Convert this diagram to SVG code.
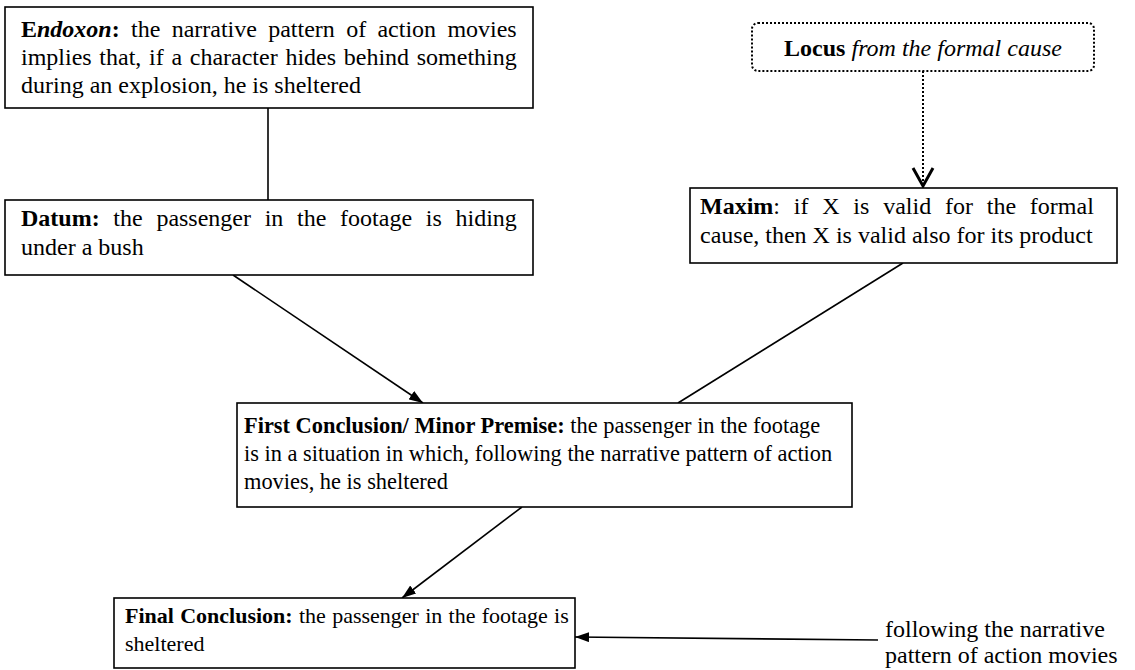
<svg xmlns="http://www.w3.org/2000/svg" width="1135" height="670" viewBox="0 0 1135 670">
<style>
  .box { fill: #fff; stroke: #000; stroke-width: 1.6; }
  .dot { fill: #fff; stroke: #000; stroke-width: 2; stroke-dasharray: 2 2; }
  .t { font-family: "Liberation Serif", "Times New Roman", serif; font-size: 24px; fill: #000; }
  .s { font-size: 22.4px; }
  .b { font-weight: bold; }
  .bi { font-weight: bold; font-style: italic; }
  .i { font-style: italic; }
  .ln { stroke: #000; stroke-width: 1.6; fill: none; }
</style>
<defs>
  <marker id="ah" viewBox="0 0 14 10" refX="14" refY="5" markerWidth="14" markerHeight="10" markerUnits="userSpaceOnUse" orient="auto">
    <path d="M0,0 L14,5 L0,10 Z" fill="#000"/>
  </marker>
</defs>
<g id="connectors">
  <line class="ln" x1="268" y1="108" x2="268" y2="200"/>
  <line class="ln" x1="233" y1="275" x2="423" y2="403" marker-end="url(#ah)"/>
  <line class="ln" x1="903" y1="263" x2="678" y2="403"/>
  <line x1="923" y1="71" x2="923" y2="185" stroke="#000" stroke-width="2" stroke-dasharray="2 2"/>
  <polyline points="913,168 923,186 933,168" fill="none" stroke="#000" stroke-width="3"/>
  <line class="ln" x1="522" y1="507" x2="402" y2="598" marker-end="url(#ah)"/>
  <line class="ln" x1="878" y1="640" x2="575" y2="637" marker-end="url(#ah)"/>
</g>
<g id="endoxon">
  <rect class="box" x="5" y="7" width="528" height="101"/>
  <text class="t" x="21" y="37" word-spacing="5.3"><tspan class="b">E</tspan><tspan class="bi">ndoxon</tspan><tspan class="b">:</tspan> the narrative pattern of action movies</text>
  <text class="t" x="21" y="65" word-spacing="1.7">implies that, if a character hides behind something</text>
  <text class="t" x="21" y="93">during an explosion, he is sheltered</text>
</g>
<g id="datum">
  <rect class="box" x="5" y="200" width="528" height="75"/>
  <text class="t" x="21" y="226" word-spacing="7.7"><tspan class="b">Datum:</tspan> the passenger in the footage is hiding</text>
  <text class="t" x="21" y="255">under a bush</text>
</g>
<g id="locus">
  <rect class="dot" x="752" y="23" width="342" height="48" rx="6"/>
  <text class="t" x="923" y="56" text-anchor="middle"><tspan class="b">Locus</tspan><tspan class="i"> from the formal cause</tspan></text>
</g>
<g id="maxim">
  <rect class="box" x="690" y="188" width="427" height="75"/>
  <text class="t" x="700" y="214" word-spacing="7.8"><tspan class="b">Maxim</tspan>: if X is valid for the formal</text>
  <text class="t" x="700" y="243">cause, then X is valid also for its product</text>
</g>
<g id="first-conclusion">
  <rect class="box" x="237" y="403" width="615" height="104"/>
  <text class="t s" x="244" y="433"><tspan class="b">First Conclusion/ Minor Premise:</tspan> the passenger in the footage</text>
  <text class="t s" x="244" y="461">is in a situation in which, following the narrative pattern of action</text>
  <text class="t s" x="244" y="489">movies, he is sheltered</text>
</g>
<g id="final-conclusion">
  <rect class="box" x="114" y="598" width="461" height="70"/>
  <text class="t" style="font-size:22px" x="125" y="623" word-spacing="0.8"><tspan class="b">Final Conclusion:</tspan> the passenger in the footage is</text>
  <text class="t" style="font-size:22px" x="125" y="651">sheltered</text>
</g>
<g id="side-note">
  <text class="t" x="885" y="637">following the narrative</text>
  <text class="t" x="885" y="663">pattern of action movies</text>
</g>
</svg>
